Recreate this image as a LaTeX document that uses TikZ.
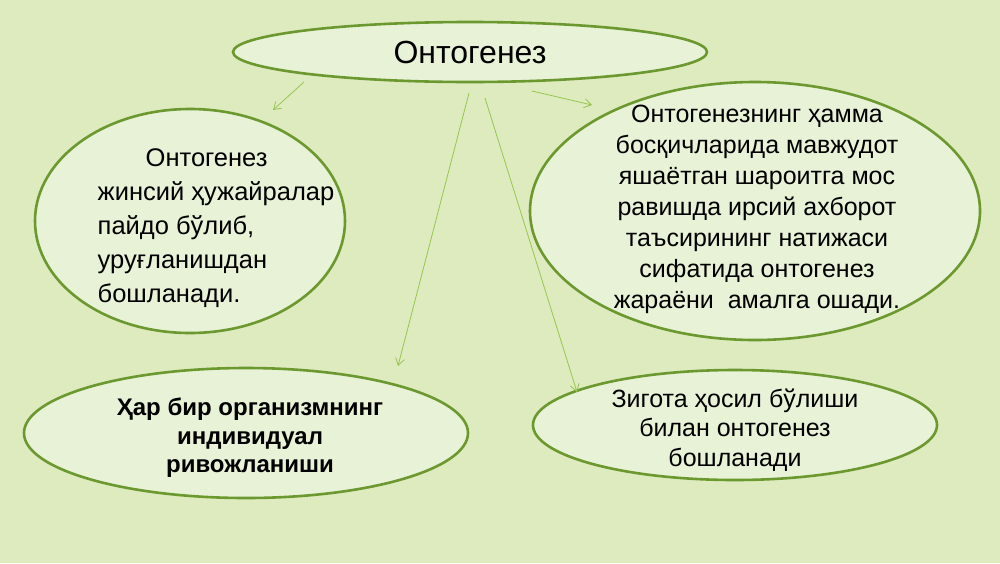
\documentclass[tikz,border=0pt]{standalone}
\usepackage{fontspec}
\setmainfont{Liberation Sans}
\usepackage{tikz}
\usetikzlibrary{shapes.geometric, arrows.meta}

\definecolor{slidebg}{RGB}{222,235,190}
\definecolor{blobfill}{RGB}{232,242,214}
\definecolor{blobline}{RGB}{108,152,48}
\definecolor{linkcol}{RGB}{150,198,80}

\begin{document}
\begin{tikzpicture}[x=1pt, y=-1pt,
  blob/.style={draw=blobline, line width=2.6pt, fill=blobfill, ellipse, inner sep=0pt},
  txt/.style={font=\fontsize{25}{31}\selectfont, inner sep=0pt},
  link/.style={draw=linkcol, line width=0.8pt, -{Straight Barb[length=7pt, width=9pt]}}
]
\fill[slidebg] (0,0) rectangle (1000,563);
\useasboundingbox (0,0) rectangle (1000,563);

% ellipses
\node[blob, minimum width=474pt, minimum height=60pt] (top) at (470,52) {};
\node[blob, minimum width=310pt, minimum height=224pt] (birth) at (190,221) {};
\node[blob, minimum width=450pt, minimum height=258pt] (heredity) at (755,211) {};
\node[blob, minimum width=444pt, minimum height=130pt] (individual) at (246,433) {};
\node[blob, minimum width=404pt, minimum height=110pt] (zygote) at (735,425) {};

% texts
\node[txt, font=\fontsize{32}{36}\selectfont] (toptext) at (top) {Онтогенез};
\node[txt, align=left, font=\fontsize{25.5}{34}\selectfont] (birthtext) at (216,228)
  {\hspace*{48pt}Онтогенез\\жинсий ҳужайралар\\пайдо бўлиб,\\уруғланишдан\\бошланади.};
\node[txt, align=center] (hereditytext) at (757,209)
  {Онтогенезнинг ҳамма\\босқичларида мавжудот\\яшаётган шароитга мос\\равишда ирсий ахборот\\таъсирининг натижаси\\сифатида онтогенез\\жараёни\ \ амалга ошади.};
\node[txt, align=center, font=\fontsize{24}{28.5}\bfseries] (individualtext) at (250,438)
  {Ҳар бир организмнинг\\индивидуал\\ривожланиши};
\node[txt, align=center, font=\fontsize{25}{29.5}\selectfont] (zygotetext) at (735,430)
  {Зигота ҳосил бўлиши\\билан онтогенез\\бошланади};

% arrow ends
\coordinate (s1) at (304,82);  \coordinate (e1) at (273,110);
\coordinate (s2) at (532,91);  \coordinate (e2) at (592,105);
\coordinate (s3) at (469,93);  \coordinate (e3) at (398,366);
\coordinate (s4) at (485,98);  \coordinate (e4) at (577,392);

\draw[link] (s1) -- (e1);
\draw[link] (s2) -- (e2);
\draw[link] (s3) -- (e3);
\draw[link] (s4) -- (e4);
\end{tikzpicture}
\end{document}
